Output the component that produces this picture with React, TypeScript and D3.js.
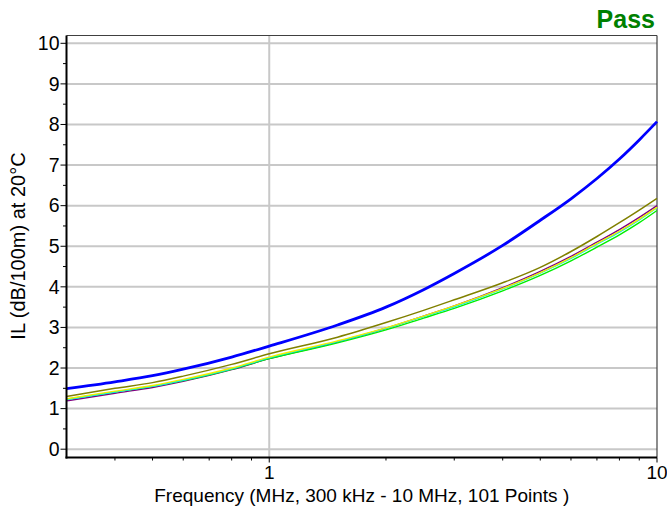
import React from 'react';
import * as d3 from 'd3';

// frequency samples (MHz)
const freqs = [0.3, 0.4, 0.5, 0.6, 0.8, 1, 1.5, 2, 2.5, 3, 4, 5, 6, 7, 8, 9, 10];

// IL (dB/100m) per pair
const bluePair = [1.49, 1.66, 1.81, 1.97, 2.27, 2.54, 3.06, 3.50, 3.93, 4.33, 5.02, 5.64, 6.17, 6.67, 7.15, 7.62, 8.07];
const olivePair = [1.30, 1.50, 1.64, 1.80, 2.09, 2.35, 2.76, 3.12, 3.42, 3.68, 4.10, 4.48, 4.87, 5.24, 5.58, 5.89, 6.18];
const purplePair = [1.19, 1.38, 1.52, 1.67, 1.96, 2.23, 2.64, 2.98, 3.28, 3.53, 3.98, 4.38, 4.75, 5.10, 5.41, 5.71, 6.00];
const yellowPair = [1.24, 1.43, 1.57, 1.72, 2.00, 2.27, 2.67, 2.99, 3.28, 3.53, 3.96, 4.35, 4.72, 5.07, 5.37, 5.67, 5.96];
const cyanPair = [1.22, 1.41, 1.55, 1.70, 1.98, 2.25, 2.65, 2.98, 3.27, 3.51, 3.95, 4.34, 4.70, 5.05, 5.35, 5.65, 5.95];
const greenPair = [1.23, 1.41, 1.55, 1.69, 1.97, 2.23, 2.62, 2.94, 3.23, 3.47, 3.90, 4.28, 4.64, 4.98, 5.28, 5.58, 5.88];

const yTicks = [0, 1, 2, 3, 4, 5, 6, 7, 8, 9, 10];
const yMinor = [0.5, 1.5, 2.5, 3.5, 4.5, 5.5, 6.5, 7.5, 8.5, 9.5];
const xMajor = [1, 10];
const xMinor = [0.4, 0.5, 0.6, 0.7, 0.8, 0.9, 2, 3, 4, 5, 6, 7, 8, 9];

const series = [
  { name: 'purple', values: purplePair, color: '#800080', width: 1.4 },
  { name: 'green', values: greenPair, color: '#00ee00', width: 1.4 },
  { name: 'cyan', values: cyanPair, color: '#00e8e8', width: 1.4 },
  { name: 'yellow', values: yellowPair, color: '#f0f000', width: 1.4 },
  { name: 'olive', values: olivePair, color: '#808000', width: 1.5 },
  { name: 'blue', values: bluePair, color: '#0000ff', width: 2.8 },
];

const font = '"Liberation Sans", Arial, sans-serif';

export default function App() {
  const W = 667, H = 515;
  const left = 66.5, right = 657, top = 35.5, bottom = 457.5;

  const x = d3.scaleLog().domain([0.3, 10]).range([left, right]);
  const y = d3.scaleLinear().domain([0, 10]).range([449.2, 43.3]);

  const line = d3.line<number>()
    .x((_, i) => x(freqs[i]))
    .y(d => y(d))
    .curve(d3.curveMonotoneX);

  return (
    <svg width={W} height={H} style={{ position: 'absolute', left: 0, top: 0, background: '#fff' }}
      fontFamily={font}>
      <defs>
        <clipPath id="plotclip">
          <rect x={left} y={top} width={right - left + 1} height={bottom - top} />
        </clipPath>
      </defs>

      {/* grid */}
      {yTicks.map(t => (
        <line key={'g' + t} x1={left} x2={right} y1={y(t)} y2={y(t)} stroke="#c8c8c8" strokeWidth={2} />
      ))}
      <line x1={x(1)} x2={x(1)} y1={top} y2={bottom} stroke="#c8c8c8" strokeWidth={2} />

      {/* frame */}
      <line x1={left} x2={right} y1={top} y2={top} stroke="#404040" strokeWidth={1.2} />
      <line x1={right} x2={right} y1={top} y2={bottom} stroke="#404040" strokeWidth={1.2} />

      {/* curves */}
      <g clipPath="url(#plotclip)">
        {series.map(s => (
          <path key={s.name} d={line(s.values) || ''} fill="none" stroke={s.color} strokeWidth={s.width}
            strokeLinejoin="round" />
        ))}
      </g>

      {/* y axis */}
      <line x1={left} x2={left} y1={top} y2={bottom + 1} stroke="#000" strokeWidth={2} />
      {yTicks.map(t => (
        <g key={'yt' + t}>
          <line x1={left - 6} x2={left} y1={y(t)} y2={y(t)} stroke="#000" strokeWidth={1} />
          <text x={left - 7} y={y(t)} dy="0.35em" textAnchor="end" fontSize={19.5} fill="#000">{t}</text>
        </g>
      ))}
      {yMinor.map(t => (
        <line key={'ym' + t} x1={left - 3.5} x2={left} y1={y(t)} y2={y(t)} stroke="#000" strokeWidth={1} />
      ))}

      {/* x axis */}
      <line x1={left - 1} x2={right} y1={bottom} y2={bottom} stroke="#000" strokeWidth={2} />
      {xMajor.map(t => (
        <g key={'xt' + t}>
          <line x1={x(t)} x2={x(t)} y1={bottom} y2={bottom + 5} stroke="#000" strokeWidth={1} />
          <text x={x(t)} y={479} textAnchor="middle" fontSize={19} fill="#000">{t}</text>
        </g>
      ))}
      {xMinor.map(t => (
        <line key={'xm' + t} x1={x(t)} x2={x(t)} y1={bottom} y2={bottom + 3} stroke="#000" strokeWidth={1} />
      ))}

      {/* labels */}
      <text x={(left + right) / 2} y={502} textAnchor="middle" fontSize={19} fill="#000">
        Frequency (MHz, 300 kHz - 10 MHz, 101 Points )
      </text>
      <text transform={`translate(25,246) rotate(-90)`} textAnchor="middle" fontSize={20} fill="#000">
        IL (dB/100m) at 20°C
      </text>
      <text x={655} y={28} textAnchor="end" fontSize={25} fontWeight="bold" fill="#008000">Pass</text>
    </svg>
  );
}
